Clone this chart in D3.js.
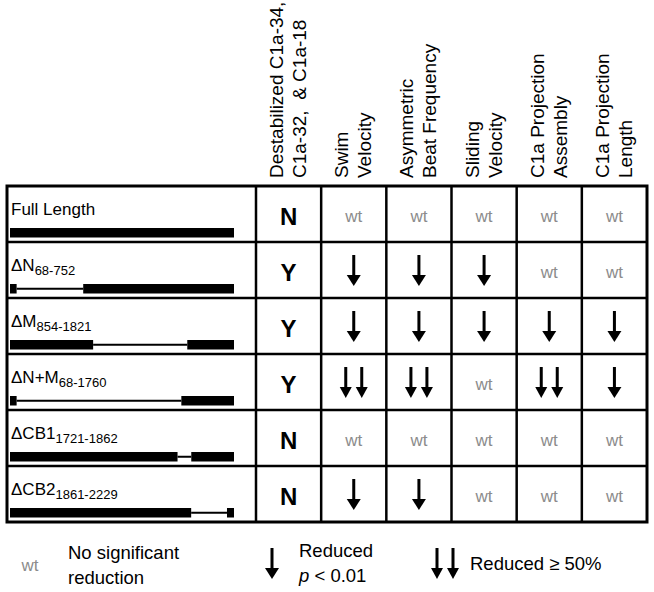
<!DOCTYPE html>
<html>
<head>
<meta charset="utf-8">
<script src="https://cdn.jsdelivr.net/npm/d3@7"></script>
<style>
  html, body { margin: 0; padding: 0; background: #fff; }
  svg { display: block; font-family: Arial, "Liberation Sans", sans-serif; }
  .pre { white-space: pre; }
</style>
</head>
<body>
<svg id="chart" width="654" height="592"></svg>
<script>
// Constructs (rows)
const constructNames = ["Full Length", "ΔN", "ΔM", "ΔN+M", "ΔCB1", "ΔCB2"];
const constructSubs = ["", "68-752", "854-1821", "68-1760", "1721-1862", "1861-2229"];
const deletionStart = [null, 68, 854, 68, 1721, 1861];
const deletionEnd = [null, 752, 1821, 1760, 1862, 2229];
const proteinLength = 2301;

// Column headers, two lines each
const headerLine1 = ["Destabilized C1a-34,", "Swim", "Asymmetric", "Sliding", "C1a Projection", "C1a Projection"];
const headerLine2 = ["C1a-32,  & C1a-18", "Velocity", "Beat Frequency", "Velocity", "Assembly", "Length"];

// Results: first column is Y/N, others 0 = wt, 1 = reduced, 2 = reduced >= 50%
const destabilized = ["N", "Y", "Y", "Y", "N", "N"];
const swimVelocity = [0, 1, 1, 2, 0, 1];
const beatFrequency = [0, 1, 1, 2, 0, 1];
const slidingVelocity = [0, 1, 1, 0, 0, 0];
const projectionAssembly = [0, 0, 1, 2, 0, 0];
const projectionLength = [0, 0, 1, 1, 0, 0];
const phenotypes = [swimVelocity, beatFrequency, slidingVelocity, projectionAssembly, projectionLength];

const CONFIG = {
    left: 7, nameRight: 256, right: 647,
    top: 186, bottom: 522,
    wtColor: "#8c8c8c"
};

const svg = d3.select("#chart");

// Scales
const yRow = d3.scaleBand()
    .domain(constructNames)
    .range([CONFIG.top, CONFIG.bottom]);

const xCol = d3.scaleBand()
    .domain(d3.range(headerLine1.length))
    .range([CONFIG.nameRight, CONFIG.right]);

const xProt = d3.scaleLinear()
    .domain([0, proteinLength])
    .range([10, 234]);

// Header labels (rotated)
headerLine1.forEach((line, i) => {
    const cx = xCol(i) + xCol.bandwidth() / 2;
    [line, headerLine2[i]].forEach((t, j) => {
        svg.append("text")
            .attr("class", "pre")
            .attr("transform", `translate(${cx - 12 + j * 23},178) rotate(-90)`)
            .attr("dominant-baseline", "central")
            .attr("font-size", 19)
            .text(t);
    });
});

// Row labels + protein schematics
constructNames.forEach((name, i) => {
    const top = yRow(name);
    const label = svg.append("text")
        .attr("x", 11)
        .attr("y", top + 29)
        .attr("font-size", 17)
        .text(name);
    if (constructSubs[i]) {
        label.append("tspan")
            .attr("font-size", 13)
            .attr("dy", 4)
            .text(constructSubs[i]);
    }

    const barY = top + 42;
    const barH = 9.5;
    const g = svg.append("g");
    if (deletionStart[i] == null) {
        g.append("rect")
            .attr("x", xProt(0)).attr("y", barY)
            .attr("width", xProt(proteinLength) - xProt(0)).attr("height", barH);
    } else {
        const s = deletionStart[i], e = deletionEnd[i];
        g.append("rect")
            .attr("x", xProt(0)).attr("y", barY)
            .attr("width", xProt(s) - xProt(0)).attr("height", barH);
        g.append("rect")
            .attr("x", xProt(e)).attr("y", barY)
            .attr("width", xProt(proteinLength) - xProt(e)).attr("height", barH);
        g.append("line")
            .attr("x1", xProt(s)).attr("x2", xProt(e))
            .attr("y1", barY + barH / 2).attr("y2", barY + barH / 2)
            .attr("stroke", "#000").attr("stroke-width", 2);
    }
});

// Arrow helper
function drawArrow(parent, cx, top, headW) {
    const shaftW = 3;
    parent.append("rect")
        .attr("x", cx - shaftW / 2).attr("y", top + 13)
        .attr("width", shaftW).attr("height", 21);
    parent.append("path")
        .attr("d", `M${cx - headW / 2},${top + 33} L${cx + headW / 2},${top + 33} L${cx},${top + 44} Z`);
}

function drawWt(parent, cx, cy, size) {
    parent.append("text")
        .attr("x", cx).attr("y", cy)
        .attr("text-anchor", "middle")
        .attr("dominant-baseline", "central")
        .attr("font-size", size)
        .attr("fill", CONFIG.wtColor)
        .text("wt");
}

// Cells
constructNames.forEach((name, i) => {
    const top = yRow(name);
    const cx0 = xCol(0) + xCol.bandwidth() / 2;
    svg.append("text")
        .attr("x", cx0).attr("y", top + 30)
        .attr("text-anchor", "middle")
        .attr("dominant-baseline", "central")
        .attr("font-size", 24)
        .attr("font-weight", "bold")
        .text(destabilized[i]);

    phenotypes.forEach((series, k) => {
        const cx = xCol(k + 1) + xCol.bandwidth() / 2;
        const v = series[i];
        if (v === 0) {
            drawWt(svg, cx, top + 30, 17);
        } else if (v === 1) {
            drawArrow(svg, cx, top, 14);
        } else {
            drawArrow(svg, cx - 8, top, 12);
            drawArrow(svg, cx + 8, top, 12);
        }
    });
});

// Grid lines
const grid = svg.append("g").attr("stroke", "#000").attr("fill", "none");
constructNames.slice(1).forEach(name => {
    grid.append("line")
        .attr("x1", CONFIG.left).attr("x2", CONFIG.right)
        .attr("y1", yRow(name)).attr("y2", yRow(name))
        .attr("stroke-width", 2.5);
});
d3.range(headerLine1.length).forEach(i => {
    grid.append("line")
        .attr("x1", xCol(i)).attr("x2", xCol(i))
        .attr("y1", CONFIG.top).attr("y2", CONFIG.bottom)
        .attr("stroke-width", 2.5);
});
grid.append("rect")
    .attr("x", CONFIG.left).attr("y", CONFIG.top)
    .attr("width", CONFIG.right - CONFIG.left)
    .attr("height", CONFIG.bottom - CONFIG.top)
    .attr("stroke-width", 3);

// Legend
const legend = svg.append("g").attr("font-size", 18.5);
drawWt(legend, 30, 565, 17);
legend.append("text").attr("x", 68).attr("y", 559).text("No significant");
legend.append("text").attr("x", 68).attr("y", 584).text("reduction");

drawArrow(legend, 272, 535, 14);
legend.append("text").attr("x", 299).attr("y", 557).text("Reduced");
const pt = legend.append("text").attr("x", 299).attr("y", 582);
pt.append("tspan").attr("font-style", "italic").text("p");
pt.append("tspan").text(" < 0.01");

drawArrow(legend, 437, 535, 12);
drawArrow(legend, 453, 535, 12);
legend.append("text").attr("x", 470).attr("y", 570).text("Reduced ≥ 50%");
</script>
</body>
</html>
